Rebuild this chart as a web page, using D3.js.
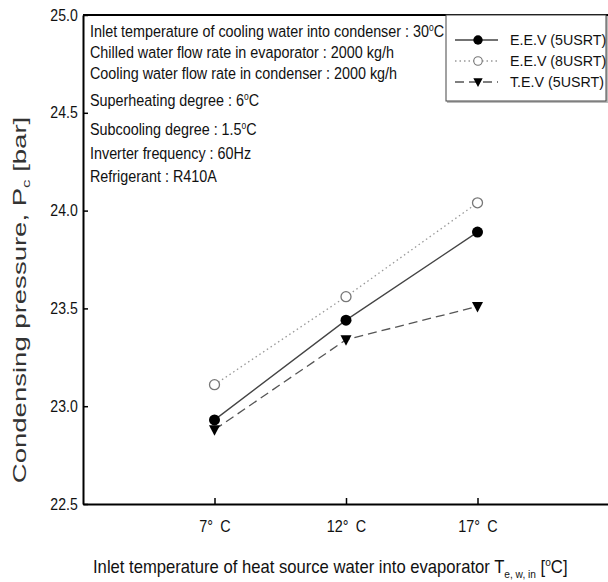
<!DOCTYPE html>
<html>
<head>
<meta charset="utf-8">
<script src="https://cdn.jsdelivr.net/npm/d3@7"></script>
<style>
  body { margin: 0; background: #fff; }
  text { font-family: "Liberation Sans", Arial, sans-serif; fill: #111; }
</style>
</head>
<body>
<script>
// data
var temps = [7, 12, 17];
var tempLabels = ["7\u00b0\u2002C", "12\u00b0\u2002C", "17\u00b0\u2002C"];
var eev5 = [22.93, 23.44, 23.89];
var eev8 = [23.11, 23.56, 24.04];
var tev5 = [22.88, 23.34, 23.51];
var yTicks = [22.5, 23.0, 23.5, 24.0, 24.5, 25.0];
var seriesNames = ["E.E.V (5USRT)", "E.E.V (8USRT)", "T.E.V (5USRT)"];
var notes = [
  ["Inlet temperature of cooling water into condenser : 30", "C"],
  ["Chilled water flow rate in evaporator : 2000 kg/h"],
  ["Cooling water flow rate in condenser : 2000 kg/h"],
  ["Superheating degree : 6", "C"],
  ["Subcooling degree : 1.5", "C"],
  ["Inverter frequency : 60Hz"],
  ["Refrigerant : R410A"]
];

// margin
var margin = {top: 15, right: 0, bottom: 78, left: 83},
    W = 608, H = 582,
    width = W - margin.left - margin.right,
    height = H - margin.top - margin.bottom;

var svg = d3.select("body").append("svg")
    .attr("width", W)
    .attr("height", H);

var g = svg.append("g")
    .attr("transform", "translate(" + margin.left + "," + margin.top + ")");

var x = d3.scaleLinear().domain([2, 22]).range([0, width + 1]);
var y = d3.scaleLinear().domain([22.5, 25]).range([height, 0]);

// axes
var yAxis = g.append("g")
    .call(d3.axisLeft(y).tickValues(yTicks).tickFormat(d3.format(".1f"))
      .tickSizeInner(-5).tickSizeOuter(0).tickPadding(6));
var xAxis = g.append("g")
    .attr("transform", "translate(0," + height + ")")
    .call(d3.axisBottom(x).tickValues(temps).tickFormat((d, i) => tempLabels[i])
      .tickSizeInner(-6).tickSizeOuter(0).tickPadding(17));

[yAxis, xAxis].forEach(function(a) {
  a.select(".domain").attr("stroke", "#000").attr("stroke-width", 2);
  a.selectAll(".tick line").attr("stroke", "#000").attr("stroke-width", 1.5);
  a.selectAll(".tick text")
      .style("font-family", "'Liberation Sans', Arial, sans-serif")
      .style("font-size", "16px").attr("fill", "#111");
});
// narrow-looking tick labels
yAxis.selectAll(".tick text").attr("transform", "scale(0.88,1)");
xAxis.selectAll(".tick text").attr("transform", "scale(0.9,1)");

// top frame
g.append("line")
    .attr("x1", 0).attr("x2", width)
    .attr("y1", 0).attr("y2", 0)
    .attr("stroke", "#000").attr("stroke-width", 2);

// series
var series = [
  {name: seriesNames[0], values: eev5, dash: null, stroke: "#444", width: 1.3, marker: "fill"},
  {name: seriesNames[1], values: eev8, dash: "1.5,3", stroke: "#999", width: 1.3, marker: "open"},
  {name: seriesNames[2], values: tev5, dash: "9,5", stroke: "#555", width: 1.3, marker: "tri"}
];

var line = d3.line()
    .x((d, i) => x(temps[i]))
    .y(d => y(d));

function drawMarker(sel, type) {
  if (type === "fill") {
    sel.append("circle").attr("r", 5.5).attr("fill", "#000");
  } else if (type === "open") {
    sel.append("circle").attr("r", 5).attr("fill", "#fff").attr("stroke", "#777").attr("stroke-width", 1.3);
  } else {
    sel.append("path").attr("d", "M-5.5,-4.5L5.5,-4.5L0,6Z").attr("fill", "#000");
  }
}

series.forEach(function(s) {
  g.append("path")
      .datum(s.values)
      .attr("d", line)
      .attr("fill", "none")
      .attr("stroke", s.stroke)
      .attr("stroke-width", s.width)
      .attr("stroke-dasharray", s.dash);
});
series.forEach(function(s) {
  s.values.forEach(function(v, i) {
    var m = g.append("g").attr("transform", "translate(" + x(temps[i]) + "," + y(v) + ")");
    drawMarker(m, s.marker);
  });
});

// conditions text
var noteY = [37, 58, 79, 106, 135, 159, 182];
notes.forEach(function(n, i) {
  var t = svg.append("g")
      .attr("transform", "translate(90," + noteY[i] + ") scale(0.845,1)")
    .append("text")
      .style("font-size", "17px");
  t.append("tspan").text(n[0]);
  if (n.length > 1) {
    t.append("tspan").attr("dy", -6).style("font-size", "10px").text("o");
    t.append("tspan").attr("dy", 6).text(n[1]);
  }
});

// legend
var lg = svg.append("g").attr("transform", "translate(446,15)");
lg.append("rect")
    .attr("x", 1).attr("y", 1).attr("width", 162).attr("height", 87)
    .attr("fill", "#bbb");
lg.append("rect")
    .attr("width", 160).attr("height", 86)
    .attr("fill", "#fff").attr("stroke", "#444").attr("stroke-width", 1);
series.forEach(function(s, i) {
  var row = lg.append("g").attr("transform", "translate(0," + (25 + i * 21) + ")");
  row.append("line")
      .attr("x1", 9).attr("x2", 52)
      .attr("stroke", s.stroke).attr("stroke-width", s.width)
      .attr("stroke-dasharray", s.dash);
  var m = row.append("g");
  drawMarker(m, s.marker);
  m.attr("transform", "translate(32,0) scale(0.85)");
  row.append("g")
      .attr("transform", "translate(64,0) scale(0.92,1)")
    .append("text")
      .attr("dy", "0.35em")
      .style("font-size", "15.5px")
      .text(s.name);
});

// y title
svg.append("text")
    .attr("transform", "translate(26,300) rotate(-90) scale(1.53,1)")
    .attr("text-anchor", "middle")
    .style("font-size", "18px")
    .style("fill", "#333")
    .call(function(t) {
      t.append("tspan").text("Condensing pressure, P");
      t.append("tspan").attr("dy", 4).style("font-size", "11px").text("c");
      t.append("tspan").attr("dy", -4).text(" [bar]");
    });

// x title
svg.append("g")
    .attr("transform", "translate(93,573) scale(0.925,1)")
  .append("text")
    .style("font-size", "18px")
    .call(function(t) {
      t.append("tspan").text("Inlet temperature of heat source water into evaporator  T");
      t.append("tspan").attr("dy", 5).style("font-size", "11px").text("e, w, in");
      t.append("tspan").attr("dy", -5).text(" [");
      t.append("tspan").attr("dy", -7).style("font-size", "11px").text("o");
      t.append("tspan").attr("dy", 7).text("C]");
    });
</script>
</body>
</html>
